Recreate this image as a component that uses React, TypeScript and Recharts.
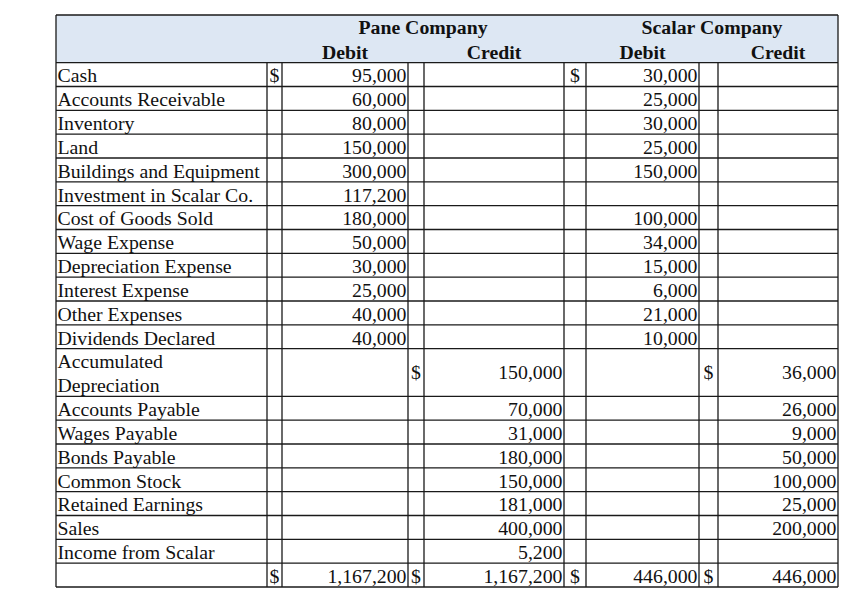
import {
  ScatterChart,
  Scatter,
  XAxis,
  YAxis,
  ReferenceLine,
  ReferenceArea,
} from 'recharts';

// trial balance values, one entry per account row (null = empty cell)
const accounts = [
  'Cash',
  'Accounts Receivable',
  'Inventory',
  'Land',
  'Buildings and Equipment',
  'Investment in Scalar Co.',
  'Cost of Goods Sold',
  'Wage Expense',
  'Depreciation Expense',
  'Interest Expense',
  'Other Expenses',
  'Dividends Declared',
  'Accumulated Depreciation',
  'Accounts Payable',
  'Wages Payable',
  'Bonds Payable',
  'Common Stock',
  'Retained Earnings',
  'Sales',
  'Income from Scalar',
];

const paneDebit = [
  95000, 60000, 80000, 150000, 300000, 117200, 180000, 50000, 30000, 25000,
  40000, 40000, null, null, null, null, null, null, null, null,
];
const paneCredit = [
  null, null, null, null, null, null, null, null, null, null, null, null,
  150000, 70000, 31000, 180000, 150000, 181000, 400000, 5200,
];
const scalarDebit = [
  30000, 25000, 30000, 25000, 150000, null, 100000, 34000, 15000, 6000,
  21000, 10000, null, null, null, null, null, null, null, null,
];
const scalarCredit = [
  null, null, null, null, null, null, null, null, null, null, null, null,
  36000, 26000, 9000, 50000, 100000, 25000, 200000, null,
];
// column totals: pane debit, pane credit, scalar debit, scalar credit
const totals = [1167200, 1167200, 446000, 446000];

const companies = ['Pane Company', 'Scalar Company'];
const sides = ['Debit', 'Credit'];

// rows that show a "$" in front of the value
const dollarRows = { debit: [0], credit: [12] };
// accounts whose label wraps onto two lines
const tallRows = [12];

// layout (x in page pixels, y in row units)
const X0 = 56;
const X1 = 838;
const cols = {
  label: [56, 267],
  pd$: [267, 282],
  pd: [282, 408],
  pc$: [408, 424],
  pc: [424, 564],
  sd$: [564, 586],
  sd: [586, 699],
  sc$: [699, 718],
  sc: [718, 838],
};
const HEADER = 2;
const BASE = 0.83;
const FONT = 'Liberation Serif, Times New Roman, serif';

const rowTops: number[] = [];
let acc = HEADER;
accounts.forEach((_, i) => {
  rowTops.push(acc);
  acc += tallRows.includes(i) ? 2 : 1;
});
const totalTop = acc;
const bottom = totalTop + 1;

const fmt = (v: number) => v.toLocaleString('en-US');

type Cell = { x: number; y: number; text: string; anchor: string; bold?: boolean };
const cells: Cell[] = [];

// header
const pairs = [
  [cols.pd, cols.pc],
  [cols.sd, cols.sc],
];
companies.forEach((c, i) => {
  const [d, cr] = pairs[i];
  cells.push({ x: (d[0] + cr[1]) / 2, y: 0.81, text: c, anchor: 'middle', bold: true });
  cells.push({ x: (d[0] + d[1]) / 2, y: 1.83, text: sides[0], anchor: 'middle', bold: true });
  cells.push({ x: (cr[0] + cr[1]) / 2, y: 1.83, text: sides[1], anchor: 'middle', bold: true });
});

const valueCols = [
  { vals: paneDebit, col: cols.pd, dol: cols.pd$, kind: 'debit' },
  { vals: paneCredit, col: cols.pc, dol: cols.pc$, kind: 'credit' },
  { vals: scalarDebit, col: cols.sd, dol: cols.sd$, kind: 'debit' },
  { vals: scalarCredit, col: cols.sc, dol: cols.sc$, kind: 'credit' },
];

accounts.forEach((name, i) => {
  const top = rowTops[i];
  const tall = tallRows.includes(i);
  if (tall) {
    name.split(' ').forEach((part, k) => {
      cells.push({ x: cols.label[0] + 1.5, y: top + BASE + k, text: part, anchor: 'start' });
    });
  } else {
    cells.push({ x: cols.label[0] + 1.5, y: top + BASE, text: name, anchor: 'start' });
  }
  const vy = tall ? top + 1.27 : top + BASE;
  valueCols.forEach(({ vals, col, dol, kind }) => {
    const v = vals[i];
    if (v == null) return;
    cells.push({ x: col[1] - 1.5, y: vy, text: fmt(v), anchor: 'end' });
    if ((dollarRows as any)[kind].includes(i)) {
      cells.push({ x: (dol[0] + dol[1]) / 2, y: vy, text: '$', anchor: 'middle' });
    }
  });
});

valueCols.forEach(({ col, dol }, i) => {
  cells.push({ x: col[1] - 1.5, y: totalTop + BASE, text: fmt(totals[i]), anchor: 'end' });
  cells.push({ x: (dol[0] + dol[1]) / 2, y: totalTop + BASE, text: '$', anchor: 'middle' });
});

const hLines = [0, HEADER, ...rowTops.slice(1), totalTop, bottom];
const vInner = Object.values(cols).map((c) => c[1]).filter((x) => x < X1);

const TextCell = (props: any) => {
  const { cx, cy, payload } = props;
  return (
    <text
      x={cx}
      y={cy}
      textAnchor={payload.anchor}
      fontFamily={FONT}
      fontSize={19.8}
      fontWeight={payload.bold ? 700 : 400}
      fill="#111"
    >
      {payload.text}
    </text>
  );
};

export default function App() {
  return (
    <div style={{ width: 856, height: 598 }}>
      <ScatterChart
        width={856}
        height={598}
        margin={{ top: 7, right: 26, bottom: 19, left: 48 }}
      >
        <XAxis type="number" dataKey="x" domain={[X0, X1]} hide allowDataOverflow />
        <YAxis type="number" dataKey="y" domain={[0, bottom]} reversed hide allowDataOverflow />
        <ReferenceArea
          x1={X0}
          x2={X1}
          y1={0}
          y2={HEADER}
          fill="#dde7f3"
          fillOpacity={1}
          stroke="none"
        />
        {hLines.map((y) => (
          <ReferenceLine
            key={'h' + y}
            segment={[
              { x: X0, y },
              { x: X1, y },
            ]}
            stroke="#1a1a1a"
            strokeWidth={1.3}
          />
        ))}
        <ReferenceLine
          segment={[
            { x: X0, y: 0 },
            { x: X0, y: bottom },
          ]}
          stroke="#1a1a1a"
          strokeWidth={1.3}
        />
        <ReferenceLine
          segment={[
            { x: X1, y: 0 },
            { x: X1, y: bottom },
          ]}
          stroke="#1a1a1a"
          strokeWidth={1.3}
        />
        {vInner.map((x) => (
          <ReferenceLine
            key={'v' + x}
            segment={[
              { x, y: HEADER },
              { x, y: bottom },
            ]}
            stroke="#1a1a1a"
            strokeWidth={1.3}
          />
        ))}
        <Scatter data={cells} shape={TextCell} isAnimationActive={false} />
      </ScatterChart>
    </div>
  );
}
